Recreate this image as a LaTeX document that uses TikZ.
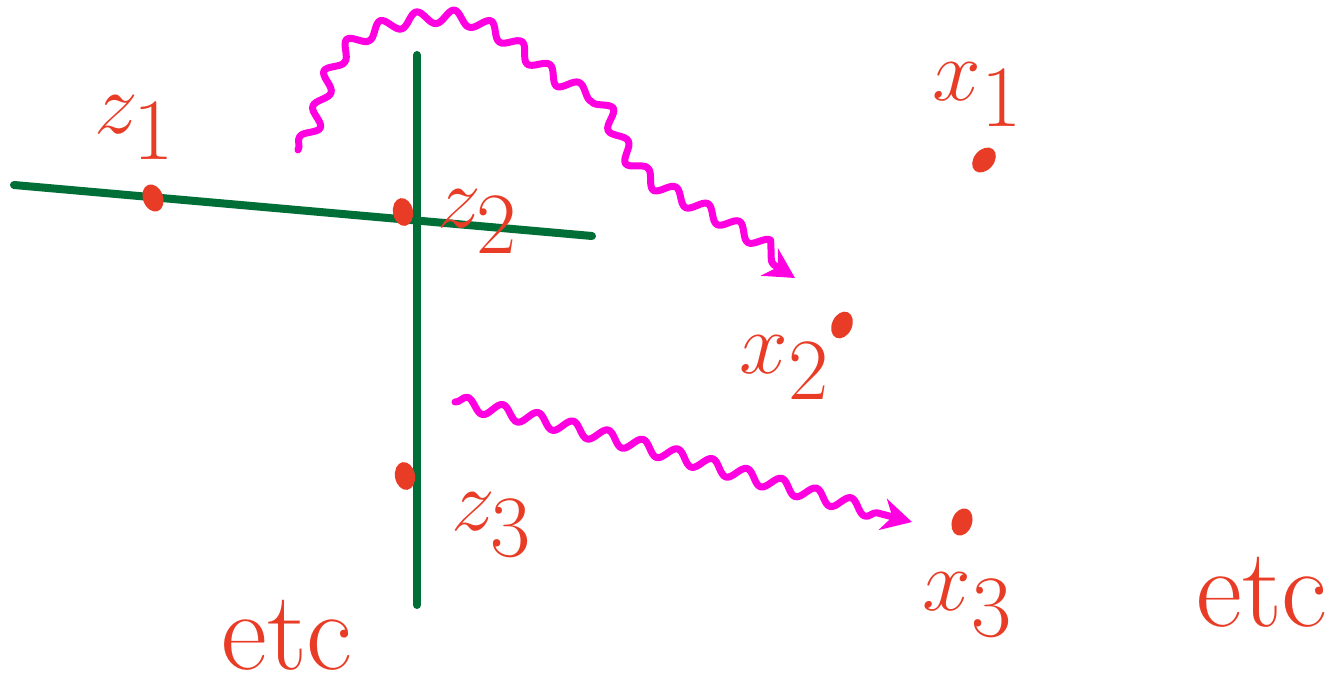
\documentclass[tikz,border=0pt]{standalone}
\usetikzlibrary{decorations.pathmorphing,arrows.meta,shapes.geometric}
\definecolor{sred}{RGB}{233,60,38}
\definecolor{sgreen}{RGB}{0,110,55}
\definecolor{smag}{RGB}{255,0,225}
\tikzset{
  dot/.style={fill=sred,ellipse,inner sep=0pt,minimum width=0.2cm,minimum height=0.28cm,draw=none},
  lab/.style={text=sred,font=\fontsize{40}{46}\selectfont},
  etclab/.style={text=sred,font=\fontsize{32}{38}\selectfont,inner sep=0pt},
  gline/.style={draw=sgreen,line width=0.08cm,line cap=round},
  wave/.style={draw=smag,line width=0.07cm,line cap=round,line join=round,
    decorate,decoration={snake,amplitude=0.07cm,segment length=0.36cm,post length=0.25cm},
    -{Stealth[length=0.3cm,width=0.32cm]}}
}
\begin{document}
\begin{tikzpicture}[x=0.01cm,y=-0.01cm]
\useasboundingbox (0,0) rectangle (1336,694);
% green lines
\coordinate (g1a) at (14,185);
\coordinate (g1b) at (592,236);
\coordinate (g2a) at (417,55);
\coordinate (g2b) at (417,605);
\draw[gline] (g1a) -- (g1b);
\draw[gline] (g2a) -- (g2b);
% dots
\node[dot,rotate=20] (z1) at (153,198) {};
\node[dot,rotate=10] (z2) at (403,212) {};
\node[dot,rotate=10] (z3) at (405,476) {};
\node[dot,rotate=-40] (x1) at (984,160) {};
\node[dot,rotate=-25] (x2) at (842,325) {};
\node[dot,rotate=-20] (x3) at (962,522) {};
% labels
\node[lab] (lz1) at (135,128) {$z_1$};
\node[lab] (lz2) at (478,222) {$z_2$};
\node[lab] (lz3) at (492,525) {$z_3$};
\node[lab] (lx1) at (978,95) {$x_1$};
\node[lab] (lx2) at (785,368) {$x_2$};
\node[lab] (lx3) at (968,605) {$x_3$};
\node[etclab] (etc1) at (287,635) {etc};
\node[etclab] (etc2) at (1262,592) {etc};
% wavy arrows
\coordinate (w1s) at (298,150);
\coordinate (w1e) at (795,278);
\draw[wave] (w1s) .. controls (330,110) and (300,40) .. (420,25)
   .. controls (500,15) and (520,80) .. (580,100)
   .. controls (610,120) and (600,170) .. (660,200)
   .. controls (720,230) and (750,250) .. (w1e);
\coordinate (w2s) at (455,402);
\coordinate (w2e) at (912,522);
\draw[wave] (w2s) .. controls (600,430) and (750,480) .. (w2e);
\end{tikzpicture}
\end{document}
